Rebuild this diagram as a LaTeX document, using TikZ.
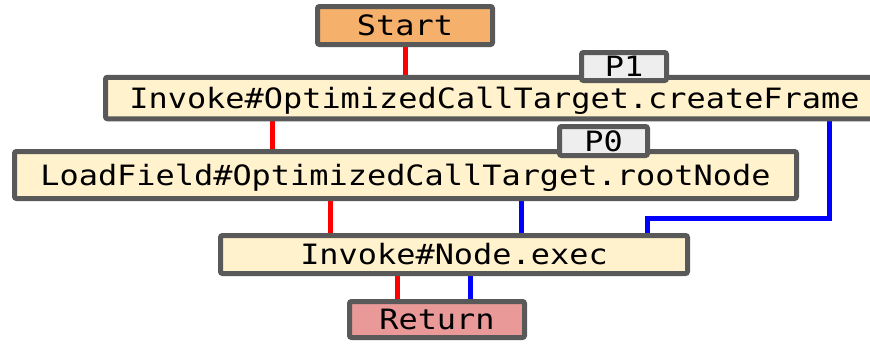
\documentclass[tikz,border=0pt]{standalone}
\usepackage{fontspec}
\setmonofont[FakeStretch=1.14]{DejaVu Sans Mono}
\usetikzlibrary{backgrounds}
\definecolor{bord}{HTML}{595959}
\definecolor{yel}{HTML}{FFF2CC}
\definecolor{org}{HTML}{F5B06B}
\definecolor{ret}{HTML}{EA9999}
\definecolor{pgr}{HTML}{EEEEEE}
\tikzset{
  gbox/.style={draw=bord, line width=5pt, rounded corners=2pt, inner sep=0pt,
    text height=20.4pt, text depth=0pt,
    font=\fontsize{28}{30}\selectfont\ttfamily, text=black},
  redl/.style={draw=red, line width=5pt},
  bluel/.style={draw=blue, line width=5pt},
}
\begin{document}
\begin{tikzpicture}[x=1pt,y=-1pt]
\useasboundingbox (0,0) rectangle (870,343);
\clip (0,0) rectangle (870,343);
\node[gbox, fill=org, minimum width=175pt, minimum height=38pt] (start) at (405,25.5) {Start};
\node[gbox, fill=yel, minimum width=778pt, minimum height=41.5pt] (cf) at (494.5,98) {Invoke\#OptimizedCallTarget.createFrame};
\node[gbox, fill=pgr, minimum width=85pt, minimum height=28pt] (p1) at (624,66.5) {P1};
\node[gbox, fill=yel, minimum width=782pt, minimum height=47pt] (lf) at (405.5,175) {LoadField\#OptimizedCallTarget.rootNode};
\node[gbox, fill=pgr, minimum width=88pt, minimum height=29pt] (p0) at (603.5,141) {P0};
\node[gbox, fill=yel, minimum width=467pt, minimum height=38pt] (ne) at (454,254.5) {Invoke\#Node.exec};
\node[gbox, fill=ret, minimum width=175pt, minimum height=36pt] (ret) at (437,319.5) {Return};
\coordinate (xa) at (405,0);
\coordinate (xb) at (272,0);
\coordinate (xc) at (330,0);
\coordinate (xd) at (521,0);
\coordinate (xe) at (829,0);
\coordinate (xf) at (647,0);
\coordinate (xg) at (397,0);
\coordinate (xh) at (470,0);
\coordinate (bend1) at (829,218);
\coordinate (bend2) at (647,218);
\begin{scope}[on background layer]
\draw[redl] (xa |- start.south) -- (xa |- cf.north);
\draw[redl] (xb |- cf.south) -- (xb |- lf.north);
\draw[redl] (xc |- lf.south) -- (xc |- ne.north);
\draw[bluel] (xd |- lf.south) -- (xd |- ne.north);
\draw[bluel] (xe |- cf.south) -- (bend1) -- (bend2) -- (xf |- ne.north);
\draw[redl] (xg |- ne.south) -- (xg |- ret.north);
\draw[bluel] (xh |- ne.south) -- (xh |- ret.north);
\end{scope}
\end{tikzpicture}
\end{document}
